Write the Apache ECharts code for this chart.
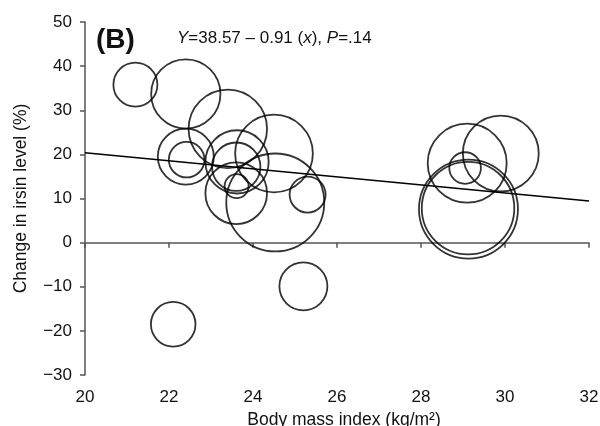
<!DOCTYPE html>
<html>
<head>
<meta charset="utf-8">
<script src="https://cdn.jsdelivr.net/npm/echarts@6/dist/echarts.min.js"></script>
<style>html,body{margin:0;padding:0;background:#fff}#c{width:600px;height:426px}</style>
</head>
<body>
<div id="c"></div>
<script>
// Study-level data (BMI, % change in irisin, relative study weight)
const bmi    = [21.2, 22.4, 23.4, 22.4, 22.42, 24.5, 23.62, 23.6, 24.53, 23.6, 23.61, 25.3, 25.2, 22.1, 29.1, 29.9, 29.05, 29.13, 29.12];
const change = [35.8, 33.7, 25.8, 19.5, 18.8, 20.2, 18.3, 17.2, 9.1, 11.2, 12.8, 10.9, -9.9, -18.5, 18.0, 20.2, 16.9, 7.6, 7.8];
const weight = [4.84, 12.0, 15.4, 7.84, 3.17, 15.1, 10.0, 5.86, 24.0, 9.5, 1.44, 3.24, 5.76, 4.97, 15.6, 14.4, 2.5, 24.5, 21.4];
// Meta-regression
const intercept = 38.57;
const slope = -0.91;
const xTicks = [20, 22, 24, 26, 28, 30, 32];
const yTicks = [-30, -20, -10, 0, 10, 20, 30, 40, 50];

const pts = bmi.map((b, i) => [b, change[i], weight[i]]);
const xMin = xTicks[0], xMax = xTicks[xTicks.length - 1];
const lineData = [[xMin, intercept + slope * xMin], [xMax, intercept + slope * xMax]];

const chart = echarts.init(document.getElementById('c'));
const font = '"Liberation Sans", Arial, sans-serif';
chart.setOption({
  animation: false,
  backgroundColor: '#fff',
  grid: { left: 85, right: 11, top: 22, bottom: 51, containLabel: false, outerBoundsMode: 'none' },
  title: [{
    text: '(B)', left: 96, top: 26, padding: 0,
    textStyle: { fontFamily: font, fontSize: 28, fontWeight: 'bold', color: '#111' }
  }, {
    text: '{i|Y}{n|=38.57 – 0.91 (}{i|x}{n|), }{i|P}{n|=.14}',
    left: 177, top: 30, padding: 0,
    textStyle: {
      fontWeight: 'normal',
      rich: {
        i: { fontFamily: font, fontSize: 17, fontStyle: 'italic', fontWeight: 'normal', color: '#111' },
        n: { fontFamily: font, fontSize: 17, fontWeight: 'normal', color: '#111' }
      }
    }
  }],
  xAxis: {
    type: 'value', min: xMin, max: xMax, interval: 2,
    name: 'Body mass index (kg/m²)', nameLocation: 'middle', nameGap: 33,
    nameTextStyle: { fontFamily: font, fontSize: 17.5, color: '#111', padding: [0, 0, 0, 14] },
    axisLine: { show: true, lineStyle: { color: '#555', width: 1.5 } },
    axisTick: { show: true, length: 5, lineStyle: { color: '#555', width: 1.5 } },
    axisLabel: { fontFamily: font, fontSize: 17, color: '#111', margin: 14 },
    splitLine: { show: false }
  },
  yAxis: {
    type: 'value', min: yTicks[0], max: yTicks[yTicks.length - 1], interval: 10,
    name: 'Change in irsin level (%)', nameLocation: 'middle', nameGap: 55, nameRotate: 90,
    nameTextStyle: { fontFamily: font, fontSize: 17.5, color: '#111' },
    axisLine: { show: true, lineStyle: { color: '#555', width: 1.5 } },
    axisTick: { show: true, length: 5, lineStyle: { color: '#555', width: 1.5 } },
    axisLabel: { fontFamily: font, fontSize: 17, color: '#111', margin: 13,
      formatter: v => (v < 0 ? '−' + Math.abs(v) : String(v)) },
    splitLine: { show: false }
  },
  series: [{
    type: 'scatter',
    data: pts,
    symbol: 'circle',
    symbolSize: d => 20 * Math.sqrt(d[2]),
    itemStyle: { color: 'rgba(0,0,0,0)', borderColor: '#000', borderWidth: 1.8 },
    emphasis: { disabled: true },
    z: 3
  }, {
    type: 'line',
    data: lineData,
    symbol: 'none',
    lineStyle: { color: '#000', width: 1.5 },
    z: 4
  }]
});
</script>
</body>
</html>
